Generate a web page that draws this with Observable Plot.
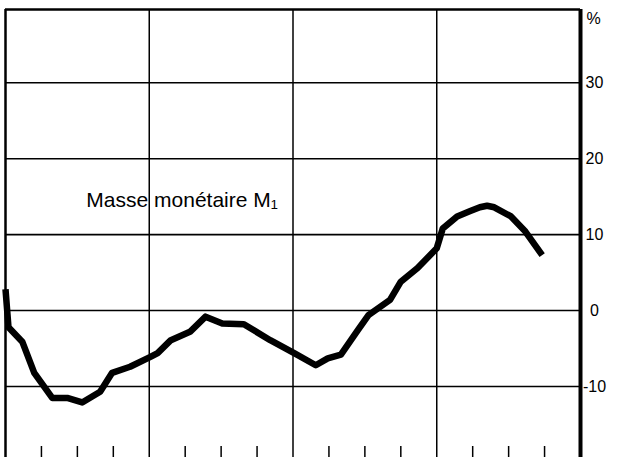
<!DOCTYPE html>
<html>
<head>
<meta charset="utf-8">
<script src="https://cdn.jsdelivr.net/npm/d3@7"></script>
<script src="https://cdn.jsdelivr.net/npm/@observablehq/plot@0.6"></script>
<style>
  html, body { margin: 0; padding: 0; background: #fff; }
  #chart { width: 622px; height: 457px; overflow: hidden; }
</style>
</head>
<body>
<div id="chart"></div>
<script>
// Months since start of the period (4 years, 48 months) and growth of M1 (%)
const months = [0, 0.25, 1.4, 2.4, 3.9, 5.15, 6.4, 7.9, 8.9, 10.4, 12.1, 12.7, 13.8, 15.4, 16.7, 18.1, 19.9, 22.1, 24.1, 25.9, 26.9, 28.0, 29.4, 30.3, 32.1, 33.0, 34.4, 36.0, 36.5, 37.7, 38.8, 39.6, 40.2, 40.8, 42.2, 43.4, 44.8];
const m1Growth = [2.8, -2.2, -4.1, -8.2, -11.5, -11.5, -12.1, -10.7, -8.2, -7.4, -6.1, -5.6, -3.9, -2.8, -0.8, -1.7, -1.8, -3.9, -5.6, -7.2, -6.3, -5.8, -2.6, -0.6, 1.4, 3.8, 5.6, 8.2, 10.8, 12.4, 13.1, 13.6, 13.8, 13.6, 12.4, 10.4, 7.3];

const yTicks = [-10, 0, 10, 20, 30];
const yearLines = [12, 24, 36];
const quarterTicks = [3, 6, 9, 15, 18, 21, 27, 30, 33, 39, 42, 45];
const xDomain = [0, 48];
const yDomain = [-19.35, 39.65];
const tickSpan = [-19.35, -17.9];
const seriesLabel = "Masse monétaire M\u2081";
const labelPos = {month: 6.75, value: 13.7};

const data = months.map((m, i) => ({month: m, value: m1Growth[i]}));

const chart = Plot.plot({
  width: 622,
  height: 457,
  marginLeft: 5,
  marginRight: 42,
  marginTop: 9,
  marginBottom: 0,
  style: {fontFamily: "'Liberation Sans', Arial, sans-serif", fontSize: "16px", color: "#000", background: "#fff"},
  x: {domain: xDomain, axis: null},
  y: {domain: yDomain, axis: null},
  marks: [
    Plot.ruleY(yTicks, {stroke: "#000", strokeWidth: 1.6}),
    Plot.ruleX(yearLines, {stroke: "#000", strokeWidth: 1.5}),
    Plot.ruleX(quarterTicks, {y1: tickSpan[0], y2: tickSpan[1], stroke: "#000", strokeWidth: 1.5}),
    Plot.ruleX([xDomain[0]], {stroke: "#000", strokeWidth: 2.5}),
    Plot.ruleX([xDomain[1]], {stroke: "#000", strokeWidth: 4}),
    Plot.ruleY([yDomain[1]], {stroke: "#000", strokeWidth: 2.5}),
    Plot.axisY(yTicks, {
      anchor: "right", label: null, tickSize: 0, tickPadding: 14, textAnchor: "middle",
      fontSize: 16, fill: "#000",
      tickFormat: d => d < 0 ? "-" + Math.abs(d) : String(d)
    }),
    Plot.text(["%"], {frameAnchor: "top-right", dx: 13, dy: 9, textAnchor: "middle", lineAnchor: "middle", fontSize: 16, fill: "#000"}),
    Plot.line(data, {x: "month", y: "value", stroke: "#000", strokeWidth: 6.5, strokeLinejoin: "round", strokeLinecap: "butt"}),
    Plot.text([seriesLabel], {x: () => labelPos.month, y: () => labelPos.value, textAnchor: "start", lineAnchor: "bottom", fontSize: 21, fill: "#000"})
  ]
});
document.getElementById("chart").appendChild(chart);
</script>
</body>
</html>
